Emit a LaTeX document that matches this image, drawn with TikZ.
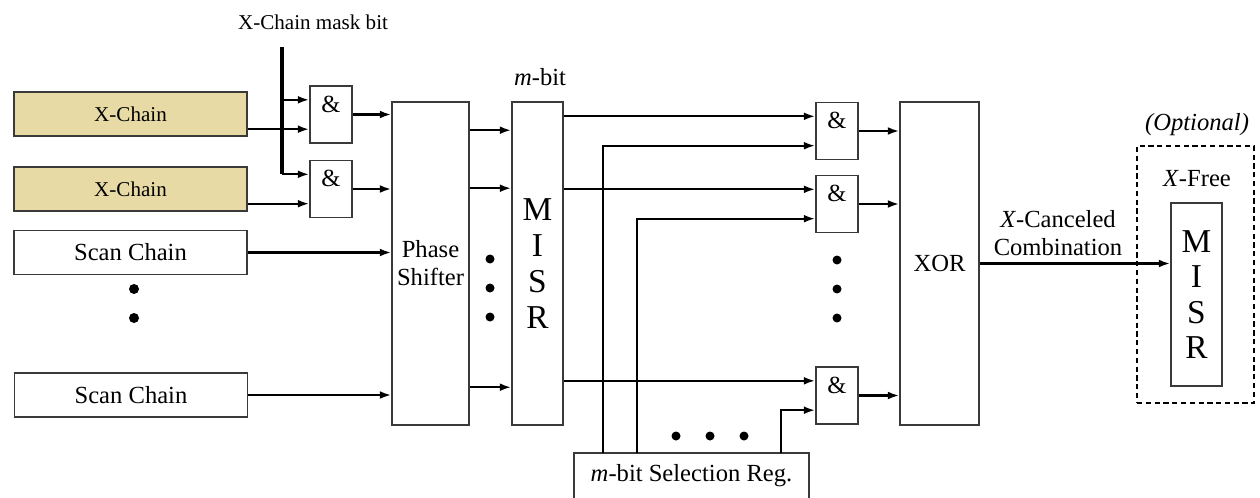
\documentclass[tikz,border=0pt]{standalone}
\usepackage{fontspec}
\setmainfont{Liberation Serif}
\usetikzlibrary{arrows.meta,positioning,calc}
\definecolor{ChainFill}{HTML}{E8DAA5}
\definecolor{BoxLine}{HTML}{3A3A3A}

\begin{document}
\begin{tikzpicture}[x=0.02cm,y=-0.02cm,
  blk/.style={draw=BoxLine, line width=0.9pt, inner sep=0pt, font=\fontsize{14}{16}\selectfont},
  sz/.style 2 args={minimum width=#1*0.02cm, minimum height=#2*0.02cm},
  chain/.style={blk, sz={233}{44}},
  xchain/.style={chain, fill=ChainFill, font=\fontsize{12}{14}\selectfont},
  gate/.style={blk, minimum width=0.84cm, text height=0.52cm, text depth=0.62cm},
  misrtxt/.style={align=center, font=\fontsize{19}{20.5}\selectfont},
  arr/.style={-{Latex[length=6.5pt,width=4.5pt]}, line width=1.25pt},
  lbl/.style={font=\fontsize{14}{16}\selectfont, inner sep=1pt}]
  \useasboundingbox (0,0) rectangle (1260,497);

  % chains on the left
  \node[xchain] (xc1) at (130.5,114) {X-Chain};
  \node[xchain] (xc2) at (130.5,189) {X-Chain};
  \node[chain] (sc1) at (130.5,252.5) {Scan Chain};
  \node[chain] (sc2) at (131,395) {Scan Chain};
  \foreach \y in {289,318} \fill (134,\y) circle (5);

  % masking gates
  \node[lbl, font=\fontsize{12}{14}\selectfont] (maskl) at (313,22) {X-Chain mask bit};
  \node[gate] (and1) at (331,114.5) {\&};
  \node[gate] (and2) at (331,189) {\&};
  \coordinate (mask) at (282,47);

  % phase shifter and MISR
  \node[blk, sz={77}{323}, align=center] (ps) at (430.5,263.5) {Phase\\Shifter};
  \node[blk, sz={51}{323}, misrtxt] (misr) at (537.5,263.5) {M\\I\\S\\R};
  \node[lbl] (mbit) at (540,77) {\textit{m}-bit};
  \foreach \y in {259,288,317} \fill (490,\y) circle (4.5);

  % selection gates
  \node[gate] (and3) at (837,131) {\&};
  \node[gate] (and4) at (837,204) {\&};
  \node[gate] (and5) at (837,395.5) {\&};
  \foreach \y in {260,289,318} \fill (837,\y) circle (4.5);
  \node[blk, sz={79}{323}] (xor) at (939.5,263.5) {XOR};

  \node[blk, draw=none, sz={233}{43}] (sel) at (691.5,475.5) {\textit{m}-bit Selection Reg.};
  \draw[BoxLine, line width=0.9pt] (sel.south west) |- (sel.north east) -- (sel.south east);
  \foreach \x in {676,710,744} \fill (\x,436) circle (4.5);

  % optional X-free MISR
  \node[blk, dashed, dash pattern=on 3pt off 2pt, draw=black, line width=1.2pt, sz={117}{257}] (opt) at (1195.5,274.5) {};
  \node[lbl, font=\fontsize{14}{16}\selectfont\itshape] (optl) at (1197,125) {(Optional)};
  \node[lbl] (xfree) at (1197,179) {\textit{X}-Free};
  \node[blk, sz={51}{183}, align=center, font=\fontsize{19}{20}\selectfont] (misr2) at (1196.5,294.5) {M\\I\\S\\R};
  \node[lbl, align=center] (xcl) at (1058,233.5) {\textit{X}-Canceled\\Combination};

  % connections
  \draw[line width=2.3pt] (mask) -- (mask |- and2.146);
  \draw[arr] (mask |- and1.146) -- (and1.146);
  \draw[arr] (mask |- and2.146) -- (and2.146);
  \draw[arr] (xc1.east |- and1.214) -- (and1.214);
  \draw[arr] (xc2.east |- and2.214) -- (and2.214);
  \draw[arr] (and1.east) -- (and1.east -| ps.west);
  \draw[arr] (and2.east) -- (and2.east -| ps.west);
  \draw[arr] (sc1.east) -- (sc1.east -| ps.west);
  \draw[arr] (sc2.east) -- (sc2.east -| ps.west);
  \foreach \dy in {29,87,286}
    \draw[arr] ($(ps.north east)+(0,\dy)$) -- ($(misr.north west)+(0,\dy)$);
  \draw[arr] (misr.east |- and3.146) -- (and3.146);
  \draw[arr] (misr.east |- and4.146) -- (and4.146);
  \draw[arr] (misr.east |- and5.146) -- (and5.146);
  \draw[arr] ($(sel.north west)+(29,0)$) |- (and3.214);
  \draw[arr] ($(sel.north west)+(63,0)$) |- (and4.214);
  \draw[arr] ($(sel.north west)+(207,0)$) |- (and5.214);
  \draw[arr] (and3.east) -- (and3.east -| xor.west);
  \draw[arr] (and4.east) -- (and4.east -| xor.west);
  \draw[arr] (and5.east) -- (and5.east -| xor.west);
  \draw[arr] (xor.east) -- (xor.east -| misr2.west);
\end{tikzpicture}
\end{document}
